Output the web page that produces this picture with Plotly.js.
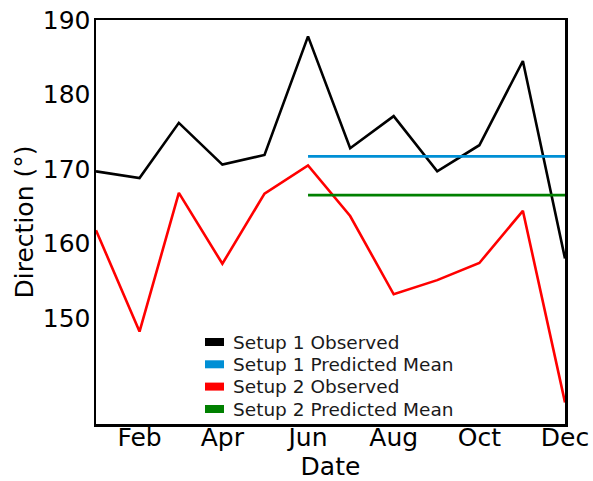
<!DOCTYPE html>
<html>
<head>
<meta charset="utf-8">
<script src="https://cdn.plot.ly/plotly-3.0.1.min.js"></script>
<style>html,body{margin:0;padding:0;background:#fff;}#chart{width:593px;height:481px;}</style>
</head>
<body>
<div id="chart"></div>
<script>
const months = ['2021-01-01','2021-02-01','2021-03-01','2021-04-01','2021-05-01','2021-06-01','2021-07-01','2021-08-01','2021-09-01','2021-10-01','2021-11-01','2021-12-01'];
const setup1Observed = [169.7, 168.8, 176.2, 170.6, 171.9, 187.8, 172.8, 177.1, 169.7, 173.2, 184.5, 158.0];
const setup2Observed = [161.8, 148.2, 166.8, 157.3, 166.7, 170.5, 163.7, 153.2, 155.1, 157.4, 164.4, 138.7];
const predMonths = ['2021-06-01','2021-07-01','2021-08-01','2021-09-01','2021-10-01','2021-11-01','2021-12-01'];
const setup1PredMean = [171.7, 171.7, 171.7, 171.7, 171.7, 171.7, 171.7];
const setup2PredMean = [166.5, 166.5, 166.5, 166.5, 166.5, 166.5, 166.5];
const yTicks = [150, 160, 170, 180, 190];
const names = ['Setup 1 Observed', 'Setup 1 Predicted Mean', 'Setup 2 Observed', 'Setup 2 Predicted Mean'];
const colors = ['#000000', '#008fd5', '#ff0000', '#008000'];

const lines = [
  {x: months, y: setup1Observed},
  {x: predMonths, y: setup1PredMean},
  {x: months, y: setup2Observed},
  {x: predMonths, y: setup2PredMean}
];
const data = lines.map((l, i) => ({x: l.x, y: l.y, type: 'scatter', mode: 'lines', name: names[i],
  line: {color: colors[i], width: 2.6}, showlegend: false, hoverinfo: 'skip'}));

// manual legend (pixel -> paper conversion of the plot area)
const L = 96, R = 565, T = 20, B = 424;
const px = v => (v - L) / (R - L);
const py = v => (B - v) / (B - T);
const rowY = [342, 364.3, 386.6, 409];
const shapes = [], annotations = [];
names.forEach((n, i) => {
  shapes.push({type: 'rect', xref: 'paper', yref: 'paper', x0: px(205), x1: px(224),
    y0: py(rowY[i] + 4), y1: py(rowY[i] - 4), fillcolor: colors[i], line: {width: 0}});
  annotations.push({xref: 'paper', yref: 'paper', x: px(231), y: py(rowY[i]), xanchor: 'left', yanchor: 'middle',
    text: n, showarrow: false, font: {family: 'DejaVu Sans', size: 18.5, color: '#1a1a1a'}});
});

const layout = {
  width: 593, height: 481,
  margin: {l: 96, r: 28, t: 20, b: 57},
  paper_bgcolor: '#fff', plot_bgcolor: '#fff',
  font: {family: 'DejaVu Sans', color: '#000'},
  showlegend: false,
  shapes: shapes,
  annotations: annotations,
  xaxis: {
    type: 'date',
    range: ['2021-01-01', '2021-12-01'],
    tick0: '2021-02-01', dtick: 'M2', tickformat: '%b',
    showgrid: false, zeroline: false, ticks: '',
    showline: true, mirror: true, linecolor: '#000', linewidth: 2.5,
    ticklabelstandoff: -11,
    tickfont: {family: 'DejaVu Sans', size: 25, color: '#000'},
    title: {text: 'Date', font: {family: 'DejaVu Sans', size: 25, color: '#000'}, standoff: 16}
  },
  yaxis: {
    range: [135.8, 190],
    tickvals: yTicks,
    showgrid: false, zeroline: false, ticks: '',
    showline: true, mirror: true, linecolor: '#000', linewidth: 2.5,
    ticklabelstandoff: -2,
    tickfont: {family: 'DejaVu Sans', size: 25, color: '#000'},
    title: {text: 'Direction (°)', font: {family: 'DejaVu Sans', size: 25, color: '#000'}, standoff: 2}
  }
};
Plotly.newPlot('chart', data, layout, {displayModeBar: false, staticPlot: true});
</script>
</body>
</html>
